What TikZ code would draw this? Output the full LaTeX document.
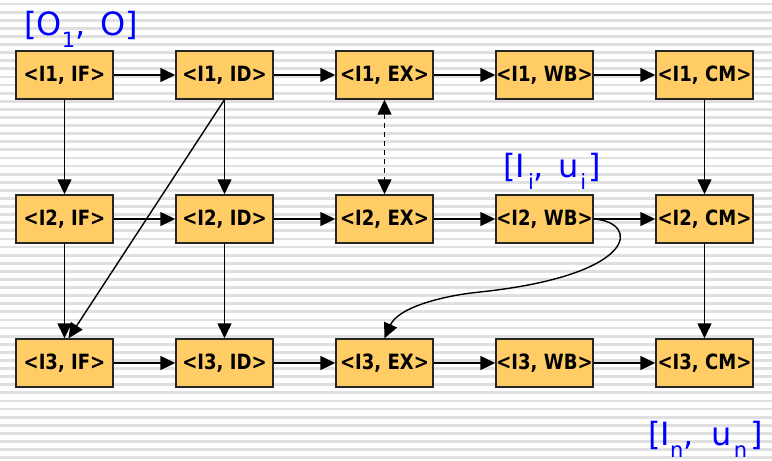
\documentclass[tikz,border=0pt]{standalone}
\usepackage{fontspec}
\setmainfont{DejaVu Sans}
\newfontfamily\stagefont{DejaVu Sans}[FakeStretch=0.86]
\usetikzlibrary{arrows.meta}
\definecolor{boxfill}{RGB}{255,204,102}
\definecolor{stripe}{RGB}{224,224,224}
\definecolor{labelblue}{RGB}{0,0,255}
% lowered, smaller index for the interval labels
\newcommand\idx[1]{\raisebox{-0.38em}{\fontsize{21}{21}\selectfont #1}}

\begin{document}
\begin{tikzpicture}[x=1pt,y=-1pt,
  stage/.style={draw=black!85, line width=1.4pt, fill=boxfill,
    minimum width=97pt, minimum height=48pt, inner sep=0pt,
    font=\stagefont\fontsize{21}{23}\selectfont\bfseries},
  flow/.style={line width=1.4pt, -{Triangle[length=15pt,width=14pt]}},
  both/.style={line width=1.4pt, dashed, dash pattern=on 5pt off 4pt,
    {Triangle[length=15pt,width=14pt]}-{Triangle[length=15pt,width=14pt]}},
  interval/.style={text=labelblue, inner sep=0pt, anchor=base west,
    font=\fontsize{32}{34}\selectfont}]

% ruled background
\fill[white] (0,0) rectangle (772,461);
\foreach \k in {0,...,56}
  \fill[stripe] (0,{2.6+8.1*\k}) rectangle (772,{5.4+8.1*\k});
\useasboundingbox (0,0) rectangle (772,461);

% pipeline stages: rows are instructions, columns are stages
\foreach \r/\y in {1/75,2/219,3/363}
  \foreach \st [count=\i] in {IF,ID,EX,WB,CM}
    \node[stage] (s\r\i) at ({64.5+160*(\i-1)},\y) {<I\r, \st>};

% stage order within each instruction
\foreach \r in {1,2,3}
  \foreach \i/\j in {1/2,2/3,3/4,4/5}
    \draw[flow] (s\r\i) -- (s\r\j);

% ordering between instructions
\draw[flow] (s11) -- (s21);
\draw[flow] (s21) -- (s31);
\draw[flow] (s12) -- (s22);
\draw[flow] (s22) -- (s32);
\draw[flow] (s15) -- (s25);
\draw[flow] (s25) -- (s35);
\draw[flow] (s12.south) -- ([xshift=4pt]s31.north);
\draw[both] (s13) -- (s23);
\draw[flow] (s24.east) .. controls (640,222) and (640,275) .. (480,292)
  .. controls (440,296) and (398,308) .. (s33.north);

% interval labels
\node[interval] (lo) at (24,35) {[O\idx{1},\kern15pt O]};
\node[interval] (li) at (503,177) {[I\kern3pt\idx{i},\kern14pt u\kern2pt\idx{i}\kern2pt]};
\node[interval] (ln) at (648,445) {[I\idx{n},\kern18pt u\kern2pt\idx{n}\kern3pt]};
\end{tikzpicture}
\end{document}
